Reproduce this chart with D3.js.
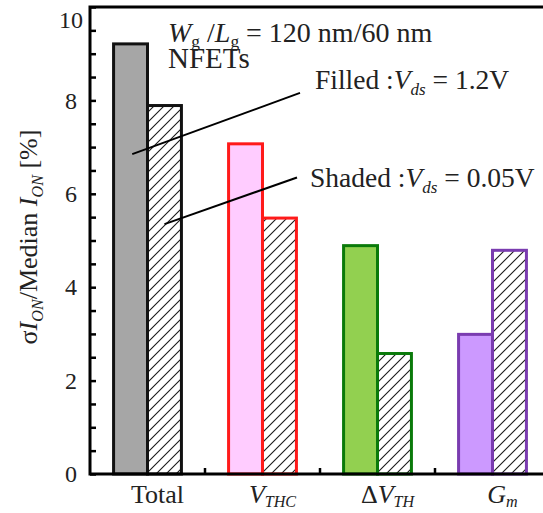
<!DOCTYPE html>
<html>
<head>
<meta charset="utf-8">
<script src="https://cdn.jsdelivr.net/npm/d3@7/dist/d3.min.js"></script>
<style>
  html, body { margin: 0; padding: 0; background: #fff; }
  svg { display: block; }
  text { font-family: "Liberation Serif", "Times New Roman", serif; fill: #222; }
</style>
</head>
<body>
<svg id="chart" width="543" height="513"></svg>
<script>
// Categories (rendered as rich labels below the axis)
const categories = ["Total", "VTHC", "dVTH", "Gm"];
const series = ["filled", "shaded"];
// sigma(I_ON)/median(I_ON) in %, Vds = 1.2 V (filled) and Vds = 0.05 V (shaded)
const filledValues = [9.21, 7.07, 4.89, 2.99];
const shadedValues = [7.89, 5.48, 2.58, 4.79];
const yTickValues = [0, 2, 4, 6, 8, 10];
const yMinorTicks = d3.range(0, 10.01, 0.5);

const fillColors   = ["#a6a6a6", "#ffccff", "#92d050", "#cc99ff"];
const strokeColors = ["#111111", "#ff1a1a", "#0a7a0a", "#7a3cb0"];

// Rich-text pieces for category labels
const categoryLabels = [
  [{t: "Total"}],
  [{t: "V", i: true}, {t: "THC", i: true, sub: true}],
  [{t: "\u0394"}, {t: "V", i: true}, {t: "TH", i: true, sub: true}],
  [{t: "G", i: true}, {t: "m", i: true, sub: true}]
];

const svg = d3.select("#chart");
const margin = {left: 90, top: 7, bottom: 474, right: 550};

const x = d3.scaleBand().domain(categories).range([margin.left, margin.right]);
const y = d3.scaleLinear().domain([0, 10]).range([margin.bottom, margin.top]);
const pairWidth = x.bandwidth() * 0.59;
const x1 = d3.scaleBand().domain(series)
  .range([(x.bandwidth() - pairWidth) / 2, (x.bandwidth() + pairWidth) / 2]);

// Diagonal hatch for the low-Vds bars
const defs = svg.append("defs");
const pat = defs.append("pattern")
  .attr("id", "hatch").attr("patternUnits", "userSpaceOnUse")
  .attr("width", 10).attr("height", 10);
pat.append("rect").attr("width", 10).attr("height", 10).attr("fill", "#fff");
pat.append("path")
  .attr("d", "M-1,11 L11,-1 M-1,1 L1,-1 M9,11 L11,9")
  .attr("stroke", "#1a1a1a").attr("stroke-width", 1.1);

// Bars
const rows = categories.map((c, i) => ({c, i, filled: filledValues[i], shaded: shadedValues[i]}));
const groups = svg.append("g").selectAll("g").data(rows).join("g")
  .attr("transform", d => `translate(${x(d.c)},0)`);

groups.append("rect")
  .attr("x", x1("shaded")).attr("width", x1.bandwidth())
  .attr("y", d => y(d.shaded)).attr("height", d => y(0) - y(d.shaded))
  .attr("fill", "url(#hatch)")
  .attr("stroke", d => strokeColors[d.i]).attr("stroke-width", 3);

groups.append("rect")
  .attr("x", x1("filled")).attr("width", x1.bandwidth())
  .attr("y", d => y(d.filled)).attr("height", d => y(0) - y(d.filled))
  .attr("fill", d => fillColors[d.i])
  .attr("stroke", d => strokeColors[d.i]).attr("stroke-width", 3);

// Axes
const yAxis = d3.axisRight(y).tickValues(yMinorTicks).tickSize(6).tickFormat("");
const gy = svg.append("g").attr("transform", `translate(${margin.left},0)`).call(yAxis);
gy.select(".domain").remove();
gy.selectAll(".tick line").attr("stroke", "#000").attr("stroke-width", 2.5);

const labelY = svg.append("g");
labelY.selectAll("text").data(yTickValues).join("text")
  .attr("x", 71)
  .attr("y", d => d === 10 ? y(d) + 13 : y(d))
  .attr("dy", "0.34em")
  .attr("text-anchor", "middle")
  .attr("font-size", 24)
  .text(d => d);

// category separators on the bottom axis
const sepTicks = categories.slice(1).map(c => x(c));
svg.append("g").selectAll("line").data(sepTicks).join("line")
  .attr("x1", d => d).attr("x2", d => d)
  .attr("y1", y(0)).attr("y2", y(0) - 6)
  .attr("stroke", "#000").attr("stroke-width", 2.5);

// frame: left, top, bottom
svg.append("path")
  .attr("d", `M${margin.right},${margin.top} H${margin.left} V${margin.bottom} H${margin.right}`)
  .attr("fill", "none").attr("stroke", "#000").attr("stroke-width", 3);

// Rich text helper
function richText(sel, pieces, size, shift = 0.22) {
  pieces.forEach((p, k) => {
    const prev = k > 0 ? pieces[k - 1] : null;
    const ts = sel.append("tspan").text(p.t)
      .attr("font-style", p.i ? "italic" : "normal")
      .attr("font-size", p.sub ? size * 0.62 : size);
    if (p.sub && !(prev && prev.sub)) ts.attr("dy", size * shift);
    if (!p.sub && prev && prev.sub) ts.attr("dy", -size * shift);
  });
  return sel;
}

// Category labels
categoryLabels.forEach((pieces, i) => {
  const t = svg.append("text")
    .attr("x", x(categories[i]) + x.bandwidth() / 2 + 10)
    .attr("y", 503)
    .attr("text-anchor", "middle");
  richText(t, pieces, 26, 0.17);
});

// Y-axis title
const yt = svg.append("text")
  .attr("transform", "translate(37,237) rotate(-90)")
  .attr("text-anchor", "middle");
richText(yt, [
  {t: "\u03c3"}, {t: "I", i: true}, {t: "ON", i: true, sub: true},
  {t: "/Median "}, {t: "I", i: true}, {t: "ON", i: true, sub: true}, {t: " [%]"}
], 26);

// Device annotation
richText(svg.append("text").attr("x", 168).attr("y", 42), [
  {t: "W", i: true}, {t: "g", sub: true}, {t: " /"}, {t: "L", i: true}, {t: "g", sub: true},
  {t: " = 120 nm/60 nm"}
], 28, 0.18);
svg.append("text").attr("x", 168).attr("y", 68).attr("font-size", 29).text("NFETs");

// Legend callouts pointing at the Total bars
const totalX = x("Total");
const callouts = [
  {from: [totalX + x1("filled") + x1.bandwidth() * 0.55, 6.85], to: [300, 8.16],
   label: [{t: "Filled :"}, {t: "V", i: true}, {t: "ds", i: true, sub: true}, {t: " = 1.2V"}],
   tx: 315, ty: 89},
  {from: [totalX + x1("shaded") + x1.bandwidth() * 0.5, 5.35], to: [297, 6.35],
   label: [{t: "Shaded :"}, {t: "V", i: true}, {t: "ds", i: true, sub: true}, {t: " = 0.05V"}],
   tx: 310, ty: 187}
];
callouts.forEach(c => {
  svg.append("line")
    .attr("x1", c.from[0]).attr("y1", y(c.from[1]))
    .attr("x2", c.to[0]).attr("y2", y(c.to[1]))
    .attr("stroke", "#000").attr("stroke-width", 2);
  richText(svg.append("text").attr("x", c.tx).attr("y", c.ty), c.label, 27.5);
});
</script>
</body>
</html>
